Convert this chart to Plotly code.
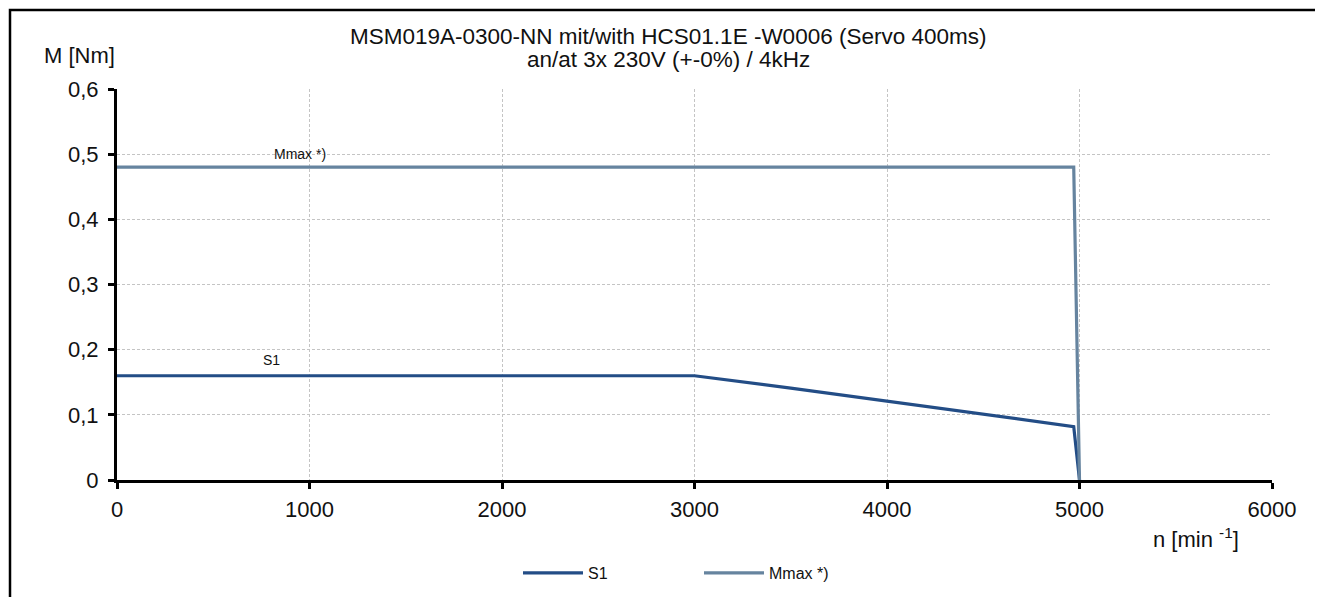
import plotly.graph_objects as go

# Data
s1_speed = [0, 3000, 3500, 4000, 4500, 4970, 5000]
s1_torque = [0.16, 0.16, 0.141, 0.121, 0.102, 0.082, 0.0]
mmax_speed = [0, 4970, 5000]
mmax_torque = [0.48, 0.48, 0.0]

y_tickvals = [0, 0.1, 0.2, 0.3, 0.4, 0.5, 0.6]
y_ticktext = ["0", "0,1", "0,2", "0,3", "0,4", "0,5", "0,6"]
x_tickvals = [0, 1000, 2000, 3000, 4000, 5000, 6000]

title_lines = ["MSM019A-0300-NN mit/with HCS01.1E -W0006 (Servo 400ms)",
               "an/at 3x 230V (+-0%) / 4kHz"]

FONT = "Liberation Sans, Arial, sans-serif"
C_S1 = "#234d86"
C_MMAX = "#66849f"

fig = go.Figure()
fig.add_trace(go.Scatter(x=s1_speed, y=s1_torque, mode="lines", name="S1",
                         line=dict(color=C_S1, width=3.2)))
fig.add_trace(go.Scatter(x=mmax_speed, y=mmax_torque, mode="lines", name="Mmax *)",
                         line=dict(color=C_MMAX, width=3.2)))

OFF = 8  # page body margin
W, H = 1315, 589
L, R, T, B = 109, 51, 81, 117
pw = W - L - R
ph = H - T - B


def px(xr):
    return (xr - OFF - L) / pw


def py(yr):
    return (H - B - (yr - OFF)) / ph


GRID = dict(showgrid=True, gridcolor="#c4c4c4", griddash="3px,2px", gridwidth=1,
            showline=True, linecolor="black", linewidth=3,
            ticks="outside", ticklen=6, tickwidth=3, tickcolor="black",
            zeroline=False, fixedrange=True)

fig.update_layout(
    width=W, height=H,
    margin=dict(l=L, r=R, t=T, b=B, autoexpand=False),
    paper_bgcolor="white", plot_bgcolor="white",
    font=dict(family=FONT, color="#111111", size=22),
    showlegend=True,
    legend=dict(orientation="h", x=px(518), xanchor="left", y=py(573), yanchor="middle",
                font=dict(size=16), itemwidth=60, tracegroupgap=0,
                entrywidth=106, entrywidthmode="pixels"),
    xaxis=dict(range=[0, 6000], tickvals=x_tickvals, tickfont=dict(size=22),
               ticklabelstandoff=2, **GRID),
    yaxis=dict(range=[0, 0.6], tickvals=y_tickvals, ticktext=y_ticktext,
               tickfont=dict(size=22), ticklabelstandoff=5, **GRID),
)

fig.add_annotation(x=px(668), y=py(37), xref="paper", yref="paper",
                   text=title_lines[0], showarrow=False, xanchor="center", yanchor="middle",
                   font=dict(size=22.5))
fig.add_annotation(x=px(668), y=py(60), xref="paper", yref="paper",
                   text=title_lines[1], showarrow=False, xanchor="center", yanchor="middle",
                   font=dict(size=22.5))
fig.add_annotation(x=px(42), y=py(55), xref="paper", yref="paper",
                   text="M [Nm]", showarrow=False, xanchor="left", yanchor="middle",
                   font=dict(size=22))
fig.add_annotation(x=px(1196), y=py(538), xref="paper", yref="paper",
                   text="n [min <sup>-1</sup>]", showarrow=False, xanchor="center", yanchor="middle",
                   font=dict(size=22))

# Curve labels
fig.add_annotation(x=950, y=0.50, xref="x", yref="y", text="Mmax *)", showarrow=False,
                   xanchor="center", yanchor="middle", font=dict(size=14))
fig.add_annotation(x=805, y=0.184, xref="x", yref="y", text="S1", showarrow=False,
                   xanchor="center", yanchor="middle", font=dict(size=14))

# Outer frame
fig.add_shape(type="rect", xref="paper", yref="paper",
              x0=px(10), x1=px(1345), y0=py(640), y1=py(10),
              line=dict(color="black", width=2.5), fillcolor="rgba(0,0,0,0)", layer="above")

fig.write_html("out.html")
